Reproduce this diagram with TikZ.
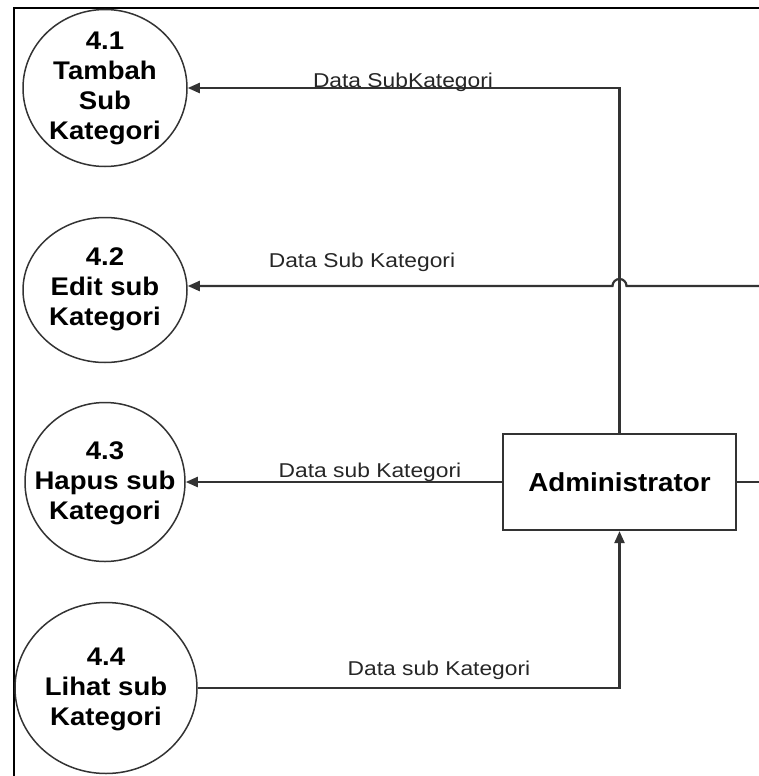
\documentclass[tikz,border=0pt]{standalone}
\usepackage{fontspec}
\setmainfont{Liberation Sans}
\usetikzlibrary{arrows.meta,shapes.geometric}
\colorlet{ln}{black!80}

% process labels: stacked lines, slightly widened
\newcommand\proctext[1]{\scalebox{1.08}[1]{\begin{tabular}{@{}c@{}}#1\end{tabular}}}
% flow labels, slightly widened
\newcommand\flowtext[1]{\scalebox{1.14}[1]{#1}}

\begin{document}
\begin{tikzpicture}[x=1pt,y=-1pt,
  proc/.style={draw=ln, line width=1.5pt, ellipse, inner sep=0pt},
  ptext/.style={font=\fontsize{25.5}{30}\selectfont\bfseries, inner sep=0pt},
  flow/.style={draw=ln, line width=2.2pt, -{Triangle[length=12pt,width=10pt]}},
  link/.style={draw=ln, line width=2.2pt},
  flabel/.style={font=\fontsize{20}{24}\selectfont, text=black!85, inner sep=0pt, anchor=base},
  entity/.style={draw=ln, line width=2.2pt, minimum width=233pt, minimum height=96pt,
    inner sep=0pt, font=\fontsize{26}{30}\selectfont\bfseries}
]
\useasboundingbox (0,0) rectangle (759,776);

% outer frame (top and left edges)
\coordinate (fTR) at (759,8);
\coordinate (fTL) at (14,8);
\coordinate (fBL) at (14,776);
\draw[line width=2.2pt, black] (fTR) -- (fTL) -- (fBL);

% processes
\node[proc, minimum width=164pt, minimum height=157pt] (p1) at (105,88) {};
\node[ptext] (t1) at (105,88) {\proctext{4.1\\Tambah\\Sub\\Kategori}};

\node[proc, minimum width=164pt, minimum height=145pt] (p2) at (105,290) {};
\node[ptext] (t2) at (105,289) {\proctext{4.2\\Edit sub\\Kategori}};

\node[proc, minimum width=160pt, minimum height=159pt] (p3) at (105,482) {};
\node[ptext] (t3) at (105,483) {\proctext{4.3\\Hapus sub\\Kategori}};

\node[proc, minimum width=182pt, minimum height=171pt] (p4) at (106,688) {};
\node[ptext] (t4) at (106,689) {\proctext{4.4\\Lihat sub\\Kategori}};

% external entity
\node[entity] (adm) at (619.5,482) {\scalebox{1.07}[1]{Administrator}};

% free ends at the right edge
\coordinate (e2) at (759,286);
\coordinate (e3) at (759,482);

% data flows
\draw[flow] (adm.north) -- (adm.north |- p1.east) -- (p1.east);
\draw[flow] (e2) -- ([xshift=7pt]adm.north |- e2)
  arc[start angle=0, end angle=180, radius=7pt] -- (p2.east |- e2);
\draw[flow] (adm.west) -- (p3.east);
\draw[link] (adm.east) -- (e3);
\draw[flow] (p4.east) -- (p4.east -| adm.south) -- (adm.south);

% flow labels
\node[flabel] (l1) at (403,87) {\flowtext{Data SubKategori}};
\node[flabel] (l2) at (362,267) {\flowtext{Data Sub Kategori}};
\node[flabel] (l3) at (370,477) {\flowtext{Data sub Kategori}};
\node[flabel] (l4) at (439,675) {\flowtext{Data sub Kategori}};
\end{tikzpicture}
\end{document}
